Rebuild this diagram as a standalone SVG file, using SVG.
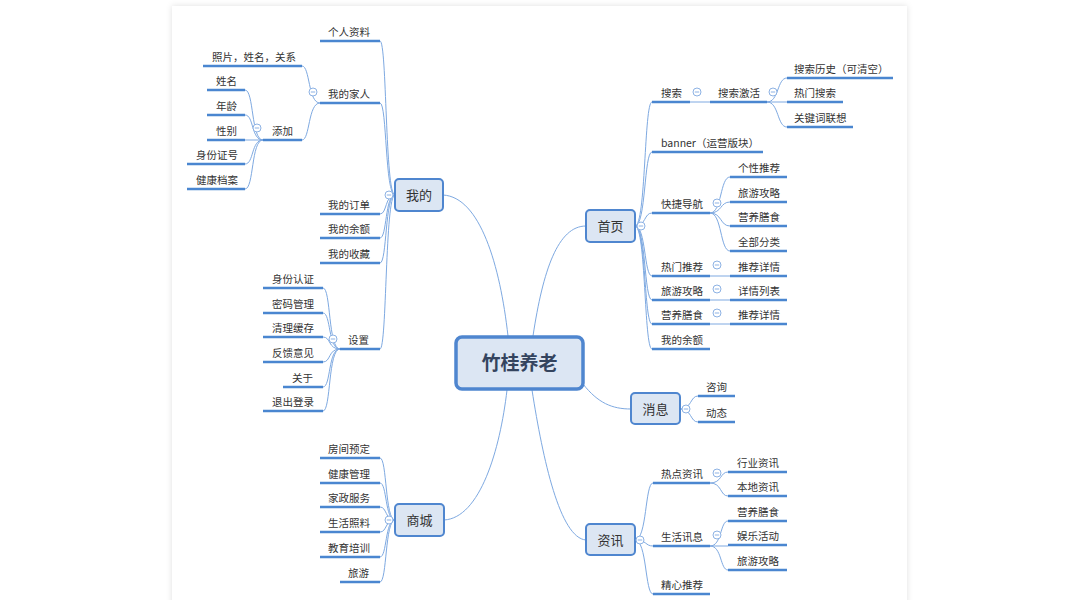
<svg xmlns="http://www.w3.org/2000/svg" width="1080" height="600" viewBox="0 0 1080 600">
<style>
.t{font-family:"Noto Sans CJK SC","Noto Sans",sans-serif;font-size:10.5px;fill:#333}
.m{font-family:"Noto Sans CJK SC","Noto Sans",sans-serif;font-size:13px;fill:#333;text-anchor:middle}
.c{font-family:"Noto Sans CJK SC","Noto Sans",sans-serif;font-size:19px;font-weight:bold;fill:#34445e;text-anchor:middle}
.u{stroke:#4a86d0;stroke-width:2.5;fill:none}
.l{stroke:#7ea9e1;stroke-width:1;fill:none}
.box{fill:#dce6f3;stroke:#4f86cf;stroke-width:2}
.o{fill:#fff;stroke:#8db2e4;stroke-width:1}
.ol{stroke:#8db2e4;stroke-width:1}
</style>
<defs>
<filter id="sh" x="-5%" y="-5%" width="110%" height="110%">
<feDropShadow dx="0" dy="0" stdDeviation="3" flood-color="#000" flood-opacity="0.12"/>
</filter>
<g id="col"><circle class="o" r="4"/><line class="ol" x1="-2.2" y1="0" x2="2.2" y2="0"/></g>
</defs>
<rect width="1080" height="600" fill="#fff"/>
<rect x="172" y="6" width="735" height="610" fill="#fff" filter="url(#sh)"/>

<g id="connectors">
<!-- central to main -->
<path class="l" d="M443,195 C480,197 500,265 508,336"/>
<path class="l" d="M586,226 C558,226 543,270 533,336"/>
<path class="l" d="M583,384 C598,403 612,409 631,409"/>
<path class="l" d="M444,520 C480,518 500,450 507,390"/>
<path class="l" d="M586,540 C560,538 543,460 532,390"/>
<!-- 我的 -->
<path class="l" d="M395,195 C385,195 387,41 380,41"/>
<path class="l" d="M395,195 C385,195 387,103 380,103"/>
<path class="l" d="M395,195 C385,195 387,214 380,214"/>
<path class="l" d="M395,195 C385,195 387,238 380,238"/>
<path class="l" d="M395,195 C385,195 387,263 380,263"/>
<path class="l" d="M395,195 C385,195 387,349 380,349"/>
<!-- 我的家人 -->
<path class="l" d="M320,103 C308,103 310,66 302,66"/>
<path class="l" d="M320,103 C308,103 310,140 302,140"/>
<!-- 添加 -->
<path class="l" d="M263,140 C251,140 254,90 245,90"/>
<path class="l" d="M263,140 C251,140 254,115 245,115"/>
<path class="l" d="M263,140 L245,140"/>
<path class="l" d="M263,140 C251,140 254,164 245,164"/>
<path class="l" d="M263,140 C251,140 254,189 245,189"/>
<!-- 设置 -->
<path class="l" d="M340,349 C328,349 331,288 323,288"/>
<path class="l" d="M340,349 C328,349 331,313 323,313"/>
<path class="l" d="M340,349 C328,349 331,337 323,337"/>
<path class="l" d="M340,349 C328,349 331,362 323,362"/>
<path class="l" d="M340,349 C328,349 331,387 323,387"/>
<path class="l" d="M340,349 C328,349 331,411 323,411"/>
<!-- 商城 -->
<path class="l" d="M395,520 C385,520 387,458 380,458"/>
<path class="l" d="M395,520 C385,520 387,483 380,483"/>
<path class="l" d="M395,520 C385,520 387,507 380,507"/>
<path class="l" d="M395,520 C385,520 387,532 380,532"/>
<path class="l" d="M395,520 C385,520 387,557 380,557"/>
<path class="l" d="M395,520 C385,520 387,582 380,582"/>
<!-- 首页 -->
<path class="l" d="M635,226 C646,226 644,102 652,102"/>
<path class="l" d="M635,226 C646,226 644,152 652,152"/>
<path class="l" d="M635,226 C646,226 644,213 652,213"/>
<path class="l" d="M635,226 C646,226 644,276 652,276"/>
<path class="l" d="M635,226 C646,226 644,300 652,300"/>
<path class="l" d="M635,226 C646,226 644,324 652,324"/>
<path class="l" d="M635,226 C646,226 644,349 652,349"/>
<!-- 搜索 -->
<path class="l" d="M690,102 L710,102"/>
<path class="l" d="M767,102 C779,102 777,78 787,78"/>
<path class="l" d="M767,102 L787,102"/>
<path class="l" d="M767,102 C779,102 777,127 787,127"/>
<!-- 快捷导航 -->
<path class="l" d="M710,213 C722,213 720,177 730,177"/>
<path class="l" d="M710,213 C722,213 720,202 730,202"/>
<path class="l" d="M710,213 C722,213 720,226 730,226"/>
<path class="l" d="M710,213 C722,213 720,251 730,251"/>
<path class="l" d="M710,276 L730,276"/>
<path class="l" d="M710,300 L730,300"/>
<path class="l" d="M710,324 L730,324"/>
<!-- 消息 -->
<path class="l" d="M680,409 C692,409 690,396 698,396"/>
<path class="l" d="M680,409 C692,409 690,422 698,422"/>
<!-- 资讯 -->
<path class="l" d="M635,540 C647,540 645,483 653,483"/>
<path class="l" d="M635,540 C647,540 645,546 653,546"/>
<path class="l" d="M635,540 C647,540 645,594 653,594"/>
<path class="l" d="M710,483 C722,483 720,472 728,472"/>
<path class="l" d="M710,483 C722,483 720,496 728,496"/>
<path class="l" d="M710,546 C722,546 720,521 728,521"/>
<path class="l" d="M710,546 L728,546"/>
<path class="l" d="M710,546 C722,546 720,570 728,570"/>
</g>

<g id="central"><rect class="box" x="456" y="337" width="127" height="52" rx="6" style="stroke-width:3.5"/><text class="c" x="519.5" y="370">竹桂养老</text></g>

<g id="wode"><rect class="box" x="395" y="179" width="48" height="32" rx="4"/><text class="m" x="419" y="200">我的</text><use href="#col" x="389" y="195"/></g>
<g id="shouye"><rect class="box" x="586" y="210" width="49" height="32" rx="4"/><text class="m" x="610.5" y="231">首页</text><use href="#col" x="641" y="226"/></g>
<g id="xiaoxi"><rect class="box" x="631" y="393" width="49" height="31" rx="4"/><text class="m" x="655.5" y="413.5">消息</text><use href="#col" x="686" y="409"/></g>
<g id="shangcheng"><rect class="box" x="395" y="504" width="49" height="32" rx="4"/><text class="m" x="419.5" y="525">商城</text><use href="#col" x="389" y="520"/></g>
<g id="zixun"><rect class="box" x="586" y="524" width="49" height="31" rx="4"/><text class="m" x="610.5" y="544.5">资讯</text><use href="#col" x="640" y="540"/></g>

<!-- 我的 children -->
<g id="gerenziliao"><line class="u" x1="320" y1="41" x2="380" y2="41"/><text class="t" x="328" y="36">个人资料</text></g>
<g id="wodejiaren"><line class="u" x1="320" y1="103" x2="380" y2="103"/><text class="t" x="328" y="98">我的家人</text><use href="#col" x="313" y="92"/></g>
<g id="zhaopian"><line class="u" x1="203" y1="66" x2="302" y2="66"/><text class="t" x="212" y="61">照片，姓名，关系</text></g>
<g id="tianjia"><line class="u" x1="263" y1="140" x2="302" y2="140"/><text class="t" x="272" y="135">添加</text><use href="#col" x="257" y="128"/></g>
<g id="xingming"><line class="u" x1="207" y1="90" x2="245" y2="90"/><text class="t" x="216" y="85">姓名</text></g>
<g id="nianling"><line class="u" x1="207" y1="115" x2="245" y2="115"/><text class="t" x="216" y="110">年龄</text></g>
<g id="xingbie"><line class="u" x1="207" y1="140" x2="245" y2="140"/><text class="t" x="216" y="135">性别</text></g>
<g id="shenfenzheng"><line class="u" x1="187" y1="164" x2="245" y2="164"/><text class="t" x="196" y="159">身份证号</text></g>
<g id="jiankangdangan"><line class="u" x1="187" y1="189" x2="245" y2="189"/><text class="t" x="196" y="184">健康档案</text></g>
<g id="wodedingdan"><line class="u" x1="320" y1="214" x2="380" y2="214"/><text class="t" x="328" y="209">我的订单</text></g>
<g id="wodeyue"><line class="u" x1="320" y1="238" x2="380" y2="238"/><text class="t" x="328" y="233">我的余额</text></g>
<g id="wodeshoucang"><line class="u" x1="320" y1="263" x2="380" y2="263"/><text class="t" x="328" y="258">我的收藏</text></g>
<g id="shezhi"><line class="u" x1="340" y1="349" x2="380" y2="349"/><text class="t" x="348" y="344">设置</text><use href="#col" x="333" y="339"/></g>
<g id="shenfenrenzheng"><line class="u" x1="263" y1="288" x2="323" y2="288"/><text class="t" x="272" y="283">身份认证</text></g>
<g id="mima"><line class="u" x1="263" y1="313" x2="323" y2="313"/><text class="t" x="272" y="308">密码管理</text></g>
<g id="qingli"><line class="u" x1="263" y1="337" x2="323" y2="337"/><text class="t" x="272" y="332">清理缓存</text></g>
<g id="fankui"><line class="u" x1="263" y1="362" x2="323" y2="362"/><text class="t" x="272" y="357">反馈意见</text></g>
<g id="guanyu"><line class="u" x1="283" y1="387" x2="323" y2="387"/><text class="t" x="292" y="382">关于</text></g>
<g id="tuichu"><line class="u" x1="263" y1="411" x2="323" y2="411"/><text class="t" x="272" y="406">退出登录</text></g>

<!-- 商城 children -->
<g id="fangjian"><line class="u" x1="320" y1="458" x2="380" y2="458"/><text class="t" x="328" y="453">房间预定</text></g>
<g id="jiankangguanli"><line class="u" x1="320" y1="483" x2="380" y2="483"/><text class="t" x="328" y="478">健康管理</text></g>
<g id="jiazheng"><line class="u" x1="320" y1="507" x2="380" y2="507"/><text class="t" x="328" y="502">家政服务</text></g>
<g id="shenghuozhaoliao"><line class="u" x1="320" y1="532" x2="380" y2="532"/><text class="t" x="328" y="527">生活照料</text></g>
<g id="jiaoyu"><line class="u" x1="320" y1="557" x2="380" y2="557"/><text class="t" x="328" y="552">教育培训</text></g>
<g id="lvyou"><line class="u" x1="340" y1="582" x2="380" y2="582"/><text class="t" x="348" y="577">旅游</text></g>

<!-- 首页 children -->
<g id="sousuo"><line class="u" x1="652" y1="102" x2="690" y2="102"/><text class="t" x="661" y="97">搜索</text><use href="#col" x="697" y="92"/></g>
<g id="sousuojihuo"><line class="u" x1="710" y1="102" x2="767" y2="102"/><text class="t" x="718" y="97">搜索激活</text><use href="#col" x="773" y="92"/></g>
<g id="lishi"><line class="u" x1="787" y1="78" x2="893" y2="78"/><text class="t" x="794" y="73">搜索历史（可清空）</text></g>
<g id="remensousuo"><line class="u" x1="787" y1="102" x2="843" y2="102"/><text class="t" x="794" y="97">热门搜索</text></g>
<g id="guanjianci"><line class="u" x1="787" y1="127" x2="853" y2="127"/><text class="t" x="794" y="122">关键词联想</text></g>
<g id="banner"><line class="u" x1="652" y1="152" x2="763" y2="152"/><text class="t" x="661" y="147">banner（运营版块）</text></g>
<g id="kuaijie"><line class="u" x1="652" y1="213" x2="710" y2="213"/><text class="t" x="661" y="208">快捷导航</text><use href="#col" x="717" y="203"/></g>
<g id="gexing"><line class="u" x1="730" y1="177" x2="787" y2="177"/><text class="t" x="738" y="172">个性推荐</text></g>
<g id="lvyougonglue1"><line class="u" x1="730" y1="202" x2="787" y2="202"/><text class="t" x="738" y="197">旅游攻略</text></g>
<g id="yingyang1"><line class="u" x1="730" y1="226" x2="787" y2="226"/><text class="t" x="738" y="221">营养膳食</text></g>
<g id="quanbu"><line class="u" x1="730" y1="251" x2="787" y2="251"/><text class="t" x="738" y="246">全部分类</text></g>
<g id="remen"><line class="u" x1="652" y1="276" x2="710" y2="276"/><text class="t" x="661" y="271">热门推荐</text><use href="#col" x="717" y="265"/></g>
<g id="tuijian1"><line class="u" x1="730" y1="276" x2="787" y2="276"/><text class="t" x="738" y="271">推荐详情</text></g>
<g id="lvyougonglue2"><line class="u" x1="652" y1="300" x2="710" y2="300"/><text class="t" x="661" y="295">旅游攻略</text><use href="#col" x="717" y="289"/></g>
<g id="xiangqing"><line class="u" x1="730" y1="300" x2="787" y2="300"/><text class="t" x="738" y="295">详情列表</text></g>
<g id="yingyang2"><line class="u" x1="652" y1="324" x2="710" y2="324"/><text class="t" x="661" y="319">营养膳食</text><use href="#col" x="717" y="313"/></g>
<g id="tuijian2"><line class="u" x1="730" y1="324" x2="787" y2="324"/><text class="t" x="738" y="319">推荐详情</text></g>
<g id="wodeyue2"><line class="u" x1="652" y1="349" x2="710" y2="349"/><text class="t" x="661" y="344">我的余额</text></g>

<!-- 消息 children -->
<g id="zixun2"><line class="u" x1="698" y1="396" x2="735" y2="396"/><text class="t" x="706" y="391">咨询</text></g>
<g id="dongtai"><line class="u" x1="698" y1="422" x2="735" y2="422"/><text class="t" x="706" y="417">动态</text></g>

<!-- 资讯 children -->
<g id="redian"><line class="u" x1="653" y1="483" x2="710" y2="483"/><text class="t" x="661" y="478">热点资讯</text><use href="#col" x="717" y="473"/></g>
<g id="hangye"><line class="u" x1="728" y1="472" x2="787" y2="472"/><text class="t" x="737" y="467">行业资讯</text></g>
<g id="bendi"><line class="u" x1="728" y1="496" x2="787" y2="496"/><text class="t" x="737" y="491">本地资讯</text></g>
<g id="shenghuo"><line class="u" x1="653" y1="546" x2="710" y2="546"/><text class="t" x="661" y="541">生活讯息</text><use href="#col" x="717" y="535"/></g>
<g id="yingyang3"><line class="u" x1="728" y1="521" x2="787" y2="521"/><text class="t" x="737" y="516">营养膳食</text></g>
<g id="yule"><line class="u" x1="728" y1="545" x2="787" y2="545"/><text class="t" x="737" y="540">娱乐活动</text></g>
<g id="lvyougonglue3"><line class="u" x1="728" y1="570" x2="787" y2="570"/><text class="t" x="737" y="565">旅游攻略</text></g>
<g id="jingxin"><line class="u" x1="653" y1="594" x2="710" y2="594"/><text class="t" x="661" y="589">精心推荐</text></g>
</svg>
